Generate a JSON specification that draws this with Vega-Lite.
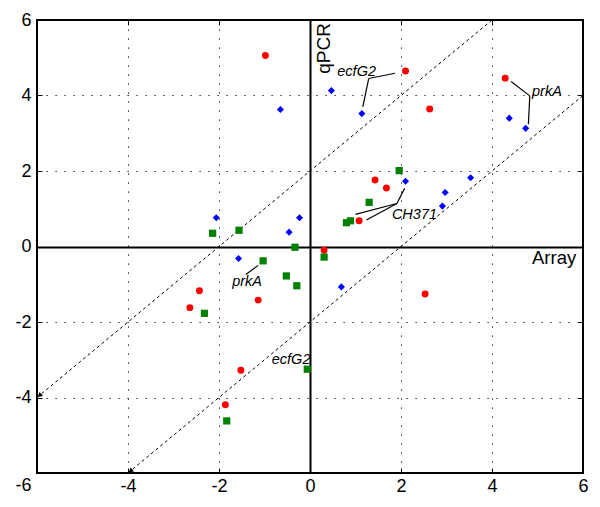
{
  "$schema": "https://vega.github.io/schema/vega-lite/v6.json",
  "autosize": "none",
  "width": 546,
  "height": 453,
  "padding": {"left": 37, "top": 20, "right": 17, "bottom": 34},
  "background": "white",
  "config": {
    "view": {"stroke": "black", "strokeWidth": 2},
    "font": "Liberation Sans",
    "axis": {
      "labelFont": "Liberation Sans",
      "labelFontSize": 18,
      "labelColor": "black",
      "domain": false,
      "ticks": true,
      "tickSize": -5,
      "tickColor": "black",
      "tickWidth": 1,
      "title": null,
      "grid": true,
      "gridColor": "black",
      "gridOpacity": 1,
      "gridDash": {"condition": {"test": "datum.value === 0", "value": []}, "value": [1.2, 7.8]},
      "gridWidth": {"condition": {"test": "datum.value === 0", "value": 2}, "value": 1},
      "labelOverlap": false,
      "labelBound": false,
      "labelFlush": false
    }
  },
  "resolve": {"scale": {"x": "independent", "y": "independent"}, "axis": {"x": "independent", "y": "independent"}},
  "datasets": {
    "points": [
      {"x": -0.98, "y": 5.06, "s": "Series A"},
      {"x": 2.10, "y": 4.65, "s": "Series A"},
      {"x": 4.29, "y": 4.46, "s": "Series A"},
      {"x": 2.63, "y": 3.64, "s": "Series A"},
      {"x": 1.43, "y": 1.76, "s": "Series A"},
      {"x": 1.68, "y": 1.55, "s": "Series A"},
      {"x": 1.08, "y": 0.68, "s": "Series A"},
      {"x": 0.31, "y": -0.10, "s": "Series A"},
      {"x": 2.53, "y": -1.26, "s": "Series A"},
      {"x": -2.43, "y": -1.17, "s": "Series A"},
      {"x": -2.64, "y": -1.62, "s": "Series A"},
      {"x": -1.14, "y": -1.42, "s": "Series A"},
      {"x": -1.52, "y": -3.28, "s": "Series A"},
      {"x": -1.86, "y": -4.19, "s": "Series A"},
      {"x": -0.65, "y": 3.63, "s": "Series B"},
      {"x": 0.47, "y": 4.13, "s": "Series B"},
      {"x": 1.14, "y": 3.52, "s": "Series B"},
      {"x": 4.38, "y": 3.40, "s": "Series B"},
      {"x": 4.74, "y": 3.13, "s": "Series B"},
      {"x": 2.10, "y": 1.73, "s": "Series B"},
      {"x": 3.53, "y": 1.82, "s": "Series B"},
      {"x": 2.97, "y": 1.43, "s": "Series B"},
      {"x": 2.91, "y": 1.07, "s": "Series B"},
      {"x": -2.06, "y": 0.76, "s": "Series B"},
      {"x": -0.23, "y": 0.76, "s": "Series B"},
      {"x": -0.46, "y": 0.38, "s": "Series B"},
      {"x": -1.57, "y": -0.32, "s": "Series B"},
      {"x": 0.69, "y": -1.07, "s": "Series B"},
      {"x": -2.14, "y": 0.35, "s": "Series C"},
      {"x": -1.56, "y": 0.43, "s": "Series C"},
      {"x": -0.33, "y": -0.02, "s": "Series C"},
      {"x": 1.96, "y": 2.01, "s": "Series C"},
      {"x": 1.30, "y": 1.17, "s": "Series C"},
      {"x": 0.89, "y": 0.68, "s": "Series C"},
      {"x": 0.80, "y": 0.63, "s": "Series C"},
      {"x": 0.31, "y": -0.28, "s": "Series C"},
      {"x": -1.03, "y": -0.38, "s": "Series C"},
      {"x": -0.52, "y": -0.78, "s": "Series C"},
      {"x": -0.29, "y": -1.04, "s": "Series C"},
      {"x": -2.32, "y": -1.77, "s": "Series C"},
      {"x": -1.83, "y": -4.62, "s": "Series C"},
      {"x": -0.06, "y": -3.25, "s": "Series C"}
    ],
    "diagonals": [
      {"x": -6, "y": -4, "x2": 4, "y2": 6},
      {"x": -4, "y": -6, "x2": 6, "y2": 4}
    ],
    "arrows": [
      {"x": -6, "y": -4},
      {"x": -4, "y": -6}
    ],
    "leaders": [
      {"x": 1.87, "y": 4.59, "x2": 1.29, "y2": 4.45},
      {"x": 1.29, "y": 4.45, "x2": 1.16, "y2": 3.70},
      {"x": 4.42, "y": 4.37, "x2": 4.83, "y2": 3.99},
      {"x": 4.83, "y": 3.99, "x2": 4.80, "y2": 3.24},
      {"x": 2.08, "y": 1.54, "x2": 1.91, "y2": 1.14},
      {"x": 1.91, "y": 1.14, "x2": 1.00, "y2": 0.85},
      {"x": 1.91, "y": 1.14, "x2": 1.24, "y2": 0.70},
      {"x": -1.14, "y": -0.50, "x2": -1.41, "y2": -0.74}
    ],
    "genes": [
      {"x": 0.60, "y": 4.52, "label": "ecfG2"},
      {"x": 4.88, "y": 3.99, "label": "prkA"},
      {"x": 1.80, "y": 0.72, "label": "CH371"},
      {"x": -1.71, "y": -1.05, "label": "prkA"},
      {"x": -0.84, "y": -3.10, "label": "ecfG2"}
    ]
  },
  "layer": [
    {
      "data": {"name": "diagonals"},
      "mark": {"type": "rule", "color": "black", "strokeWidth": 1, "strokeDash": [3, 3]},
      "encoding": {
        "x": {"field": "x", "type": "quantitative", "scale": {"domain": [-6, 6], "nice": false, "zero": false},
          "axis": {"values": [-6, -4, -2, 0, 2, 4, 6], "labelPadding": 9, "labelExpr": "datum.value === -6 ? '' : '' + datum.value"}},
        "y": {"field": "y", "type": "quantitative", "scale": {"domain": [-6, 6], "nice": false, "zero": false},
          "axis": {"values": [-6, -4, -2, 0, 2, 4, 6], "labelPadding": 11, "labelExpr": "'' + datum.value",
            "labelOffset": {"condition": {"test": "datum.value === -6", "value": 12}, "value": 0}}},
        "x2": {"field": "x2"},
        "y2": {"field": "y2"}
      }
    },
    {
      "data": {"name": "arrows"},
      "mark": {"type": "point", "shape": "triangle-up", "filled": true, "color": "black", "size": 30, "angle": 230, "xOffset": 2.5, "yOffset": -2, "opacity": 1},
      "encoding": {
        "x": {"field": "x", "type": "quantitative", "scale": {"domain": [-6, 6], "nice": false, "zero": false},
          "axis": {"orient": "top", "values": [-4, -2, 2, 4], "labels": false, "grid": false}},
        "y": {"field": "y", "type": "quantitative", "scale": {"domain": [-6, 6], "nice": false, "zero": false},
          "axis": {"orient": "right", "values": [-4, -2, 2, 4], "labels": false, "grid": false}}
      }
    },
    {
      "data": {"name": "leaders"},
      "mark": {"type": "rule", "color": "black", "strokeWidth": 1.2},
      "encoding": {
        "x": {"field": "x", "type": "quantitative", "scale": {"domain": [-6, 6], "nice": false, "zero": false}, "axis": null},
        "y": {"field": "y", "type": "quantitative", "scale": {"domain": [-6, 6], "nice": false, "zero": false}, "axis": null},
        "x2": {"field": "x2"},
        "y2": {"field": "y2"}
      }
    },
    {
      "data": {"name": "points"},
      "mark": {"type": "point", "filled": true, "opacity": 1},
      "encoding": {
        "x": {"field": "x", "type": "quantitative", "scale": {"domain": [-6, 6], "nice": false, "zero": false}, "axis": null},
        "y": {"field": "y", "type": "quantitative", "scale": {"domain": [-6, 6], "nice": false, "zero": false}, "axis": null},
        "color": {"field": "s", "type": "nominal", "scale": {"domain": ["Series A", "Series B", "Series C"], "range": ["#ff0000", "#0000ff", "#008000"]}, "legend": null},
        "shape": {"field": "s", "type": "nominal", "scale": {"domain": ["Series A", "Series B", "Series C"], "range": ["circle", "diamond", "square"]}, "legend": null},
        "size": {"field": "s", "type": "nominal", "scale": {"domain": ["Series A", "Series B", "Series C"], "range": [48, 52, 55]}, "legend": null}
      }
    },
    {
      "data": {"name": "genes"},
      "mark": {"type": "text", "font": "Liberation Sans", "fontSize": 14.5, "fontStyle": "italic", "align": "left", "baseline": "alphabetic", "color": "black"},
      "encoding": {
        "x": {"field": "x", "type": "quantitative", "scale": {"domain": [-6, 6], "nice": false, "zero": false}, "axis": null},
        "y": {"field": "y", "type": "quantitative", "scale": {"domain": [-6, 6], "nice": false, "zero": false}, "axis": null},
        "text": {"field": "label"}
      }
    },
    {
      "data": {"values": [{"x": 5.85, "y": -0.47, "label": "Array"}]},
      "mark": {"type": "text", "font": "Liberation Sans", "fontSize": 18.5, "align": "right", "baseline": "alphabetic", "color": "black"},
      "encoding": {
        "x": {"field": "x", "type": "quantitative", "scale": {"domain": [-6, 6], "nice": false, "zero": false}, "axis": null},
        "y": {"field": "y", "type": "quantitative", "scale": {"domain": [-6, 6], "nice": false, "zero": false}, "axis": null},
        "text": {"field": "label"}
      }
    },
    {
      "data": {"values": [{"x": 0.45, "y": 5.92, "label": "qPCR"}]},
      "mark": {"type": "text", "font": "Liberation Sans", "fontSize": 19, "align": "right", "baseline": "alphabetic", "angle": 270, "color": "black"},
      "encoding": {
        "x": {"field": "x", "type": "quantitative", "scale": {"domain": [-6, 6], "nice": false, "zero": false}, "axis": null},
        "y": {"field": "y", "type": "quantitative", "scale": {"domain": [-6, 6], "nice": false, "zero": false}, "axis": null},
        "text": {"field": "label"}
      }
    }
  ]
}
